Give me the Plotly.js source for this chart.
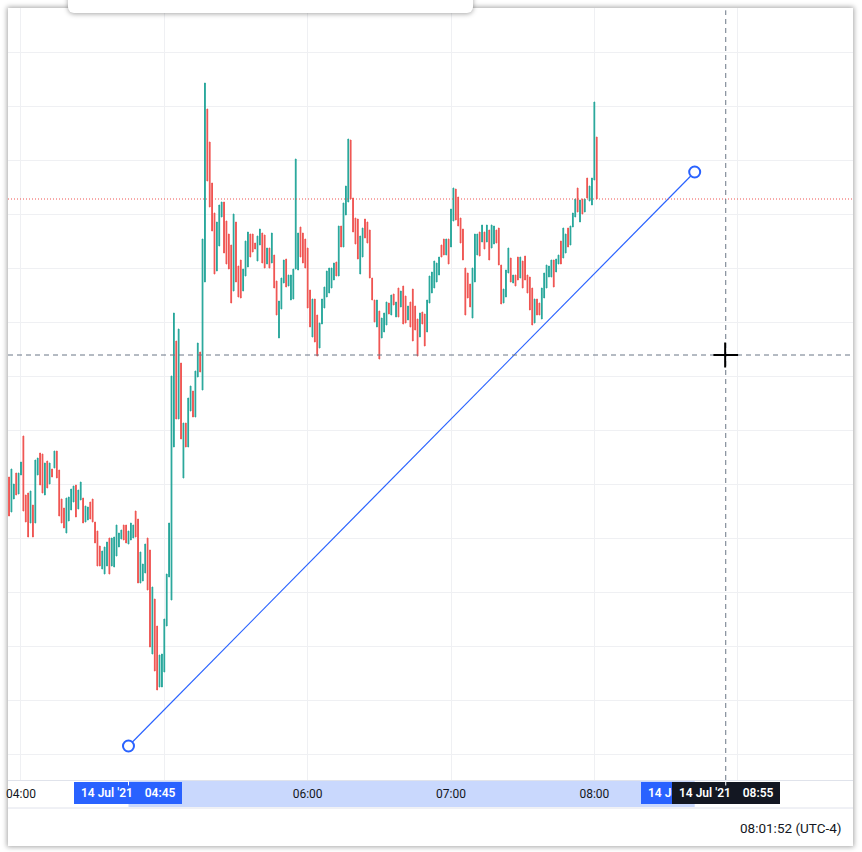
<!DOCTYPE html>
<html>
<head>
<meta charset="utf-8">
<script src="https://cdn.plot.ly/plotly-3.0.1.min.js"></script>
<style>
html,body{margin:0;padding:0;background:#fff;width:862px;height:852px;overflow:hidden;}
#frame{position:absolute;left:8px;top:8px;width:845px;height:838px;background:#fff;box-shadow:0 0 5px 1px rgba(0,0,0,0.35);}
#chart{position:absolute;left:0;top:0;width:862px;height:852px;}
#toolbar{position:absolute;left:68px;top:-12px;width:405px;height:25px;background:#fff;border-radius:6px;box-shadow:0 1px 5px rgba(0,0,0,0.35);z-index:5;}
</style>
</head>
<body>
<div id="frame"></div>
<div id="chart"></div>
<div id="toolbar"></div>
<script>
// 1-minute candles, 14 Jul 2021, first bar 03:55
const firstBar = '2021-07-14 03:55';
const up = [
0,1,1,0,1,1,0,0,0,1, 0,1,1,0,0,1,0,1,0,1, 0,0,0,0,1,1,1,1,0,1, 1,0,1,1,0,0,0,0,0,1,
1,1,0,1,1,1,1,1,0,0, 1,1,1,0,0,1,1,1,0,0, 1,0,0,1,1,1,1,1,1,1, 0,1,0,1,0,1,1,0,1,1,
0,1,1,0,0,0,0,1,1,1, 0,0,0,0,1,0,0,0,1,1, 1,0,0,0,1,1,0,0,1,0, 1,0,0,1,1,1,0,1,1,1,
1,1,0,0,0,0,0,1,0,0, 1,1,1,1,1,1,1,0,1,0, 1,1,1,0,0,0,0,1,1,0, 0,0,0,0,1,0,1,1,1,0,
1,0,1,0,1,0,0,1,0,0, 0,0,1,0,0,1,1,1,1,1, 1,0,0,1,0,1,1,0,0,0, 0,0,0,0,1,1,1,0,1,0,
1,0,1,1,0,0,0,1,1,1, 0,1,0,0,1,0,0,0,0,0, 1,0,0,1,1,1,1,1,0,1, 1,0,1,1,0,1,1,1,0,1,
0,1,0,1,1,1,0];
const high = [
523,531,516,527,527,538,564,505,507,509, 495,540,542,547,546,537,539,537,531,549,
549,530,501,492,502,503,511,514,515,510, 518,502,494,493,498,501,478,469,454,449,
453,458,462,462,463,475,467,470,475,475, 469,477,475,489,481,448,436,456,462,450,
413,401,374,345,346,381,426,477,624,687, 659,671,637,577,577,602,614,609,629,657,
648,761,917,891,858,817,787,778,795,798, 798,779,766,755,786,778,734,740,731,759,
768,766,766,757,764,771,767,765,752,752, 767,745,719,699,722,740,741,725,725,731,
841,767,773,767,761,752,710,701,701,685, 677,701,713,729,732,732,737,738,774,774,
797,814,861,860,802,782,781,764,772,781, 778,770,722,700,700,689,682,687,698,697,
705,706,698,712,709,714,704,694,698,711, 694,681,687,688,686,700,724,728,739,737,
743,755,761,761,761,791,812,811,803,782, 771,732,727,716,732,766,766,768,775,768,
775,770,775,774,770,772,735,711,730,752, 742,725,725,743,743,739,744,725,723,712,
701,701,697,712,727,735,734,740,740,741, 745,759,772,766,772,774,787,801,812,800,
801,801,822,814,822,898,863];
const low = [
484,488,501,505,506,525,489,478,463,477, 463,477,525,515,507,505,512,516,523,532,
522,484,477,472,467,479,490,498,483,491, 500,477,478,480,481,478,457,434,434,431,
426,434,426,434,433,444,453,461,460,457, 456,460,462,463,417,417,419,427,410,353,
346,329,310,313,313,328,374,423,400,553, 581,581,561,522,553,553,589,583,583,623,
628,610,718,819,793,769,726,729,754,783, 747,736,731,697,709,718,703,702,709,724,
733,743,748,751,739,755,737,732,736,732, 737,712,685,662,691,717,713,714,700,701,
731,730,743,737,732,692,673,663,658,644, 652,676,692,703,707,712,720,724,724,753,
753,785,798,801,768,756,741,726,743,762, 757,722,700,678,673,641,662,668,675,686,
685,695,683,683,693,676,677,680,673,659, 670,644,663,676,654,668,697,707,712,718,
725,743,745,745,736,753,779,780,774,757, 740,685,702,693,682,718,745,744,758,751,
758,740,752,756,757,735,696,697,703,727, 718,717,714,720,722,712,720,707,690,675,
677,685,685,681,702,712,723,723,713,728, 736,736,742,747,753,755,773,783,788,778,
786,788,802,799,795,820,801];

// drawing tool / crosshair values
const trendTimes = ['2021-07-14 04:45', '2021-07-14 08:42'];
const trendPrices = [254, 828];
const crossTime = '2021-07-14 08:55';
const crossPrice = 645;
const hourTicks = ['2021-07-14 04:00','2021-07-14 05:00','2021-07-14 06:00','2021-07-14 07:00','2021-07-14 08:00','2021-07-14 09:00'];
const hourLabels = ['04:00','','06:00','07:00','08:00',''];
const NB = '\u00a0';
const startLabel = NB + "14 Jul '21" + NB.repeat(4) + "04:45" + NB;
const endLabel = NB + "14 Jul '21" + NB.repeat(4) + "08:42" + NB;
const crossLabel = NB + "14 Jul '21" + NB.repeat(4) + "08:55" + NB;
const clockText = '08:01:52 (UTC-4)';

function pad(n){return (n<10?'0':'')+n;}
const t0 = new Date(firstBar.replace(' ','T')+':00Z');
const times = up.map((_,i)=>{const d=new Date(t0.getTime()+i*60000);return '2021-07-14 '+pad(d.getUTCHours())+':'+pad(d.getUTCMinutes());});
const open = up.map((u,i)=>u?low[i]:high[i]);
const close = up.map((u,i)=>u?high[i]:low[i]);
const lastClose = close[close.length-1];

const GREEN='#26a69a', RED='#ef5350', BLUE='#2962ff', DARK='#131722';
const font='Roboto, "Liberation Sans", sans-serif';
const labFont = {family:font,size:12,color:'#fff',weight:600};

const traces = [
 {type:'candlestick', x:times, open:open, high:high, low:low, close:close,
  increasing:{line:{color:GREEN,width:1},fillcolor:GREEN},
  decreasing:{line:{color:RED,width:1},fillcolor:RED},
  whiskerwidth:0, hoverinfo:'none', showlegend:false},
 {type:'scatter', mode:'lines+markers', x:trendTimes, y:trendPrices,
  line:{color:BLUE,width:1.2}, marker:{size:11,color:'#ffffff',line:{color:BLUE,width:2}},
  cliponaxis:false, hoverinfo:'none', showlegend:false}
];

const ylab = -0.0162;
const layout = {
 width:862, height:852,
 margin:{l:8,r:9,t:8,b:72,pad:0},
 paper_bgcolor:'rgba(0,0,0,0)', plot_bgcolor:'rgba(0,0,0,0)',
 boxgap:0.55,
 showlegend:false,
 dragmode:false,
 xaxis:{type:'date', range:['2021-07-14 03:54:34','2021-07-14 09:48:16'],
  tickmode:'array', tickvals:hourTicks, ticktext:hourLabels,
  showgrid:true, gridcolor:'#eff0f3', gridwidth:1,
  showline:true, linecolor:'#e0e3eb', linewidth:1, ticks:'', ticklabelstandoff:3,
  tickfont:{family:font,size:12,color:DARK}, zeroline:false,
  rangeslider:{visible:false}, fixedrange:true},
 yaxis:{range:[220,992], tick0:246, dtick:54, showticklabels:false,
  showgrid:true, gridcolor:'#eff0f3', zeroline:false, fixedrange:true},
 shapes:[
  {type:'rect', xref:'x', yref:'paper', x0:trendTimes[0], x1:trendTimes[1], y0:-0.035, y1:-0.0013,
   fillcolor:'#c9d8fd', line:{width:0}, layer:'below'},
  {type:'line', xref:'paper', yref:'paper', x0:0, x1:1, y0:-0.0363, y1:-0.0363, line:{color:'#e0e3eb',width:1}},
  {type:'line', xref:'paper', yref:'y', x0:0, x1:1, y0:lastClose, y1:lastClose, line:{color:RED,width:1,dash:'1px,2px'}},
  {type:'line', xref:'paper', yref:'y', x0:0, x1:1, y0:crossPrice, y1:crossPrice, line:{color:'#6a7686',width:1,dash:'5px,4px'}},
  {type:'line', xref:'x', yref:'paper', x0:crossTime, x1:crossTime, y0:0, y1:0.997, line:{color:'#6a7686',width:1,dash:'5px,4px'}},
  {type:'line', xref:'x', yref:'y', x0:'2021-07-14 08:49:50', x1:'2021-07-14 09:00:10', y0:crossPrice, y1:crossPrice, line:{color:'#000',width:2}},
  {type:'line', xref:'x', yref:'y', x0:'2021-07-14 08:54:45', x1:'2021-07-14 08:54:45', y0:crossPrice-12.5, y1:crossPrice+12.5, line:{color:'#000',width:2}}
 ],
 annotations:[
  {xref:'x', yref:'paper', x:trendTimes[0], y:ylab, text:startLabel, showarrow:false,
   bgcolor:BLUE, bordercolor:BLUE, borderwidth:1, borderpad:3, font:labFont, xanchor:'center', yanchor:'middle'},
  {xref:'x', yref:'paper', x:trendTimes[1], y:ylab, text:endLabel, showarrow:false,
   bgcolor:BLUE, bordercolor:BLUE, borderwidth:1, borderpad:3, font:labFont, xanchor:'center', yanchor:'middle'},
  {xref:'x', yref:'paper', x:crossTime, y:ylab, text:crossLabel, showarrow:false,
   bgcolor:DARK, bordercolor:DARK, borderwidth:1, borderpad:3, font:labFont, xanchor:'center', yanchor:'middle'},
  {xref:'x', yref:'paper', x:trendTimes[0], y:-0.0013, text:'', showarrow:true, arrowhead:0, arrowwidth:1, arrowcolor:'#fff', ax:0, ay:6, standoff:0},
  {xref:'x', yref:'paper', x:crossTime, y:-0.0013, text:'', showarrow:true, arrowhead:0, arrowwidth:1, arrowcolor:'#fff', ax:0, ay:6, standoff:0},
  {xref:'paper', yref:'paper', x:0.9882, y:-0.0622, text:clockText, showarrow:false, xanchor:'right', yanchor:'middle',
   font:{family:font,size:13.5,color:DARK}}
 ]
};
Plotly.newPlot('chart', traces, layout, {displayModeBar:false, staticPlot:true});
</script>
</body>
</html>
